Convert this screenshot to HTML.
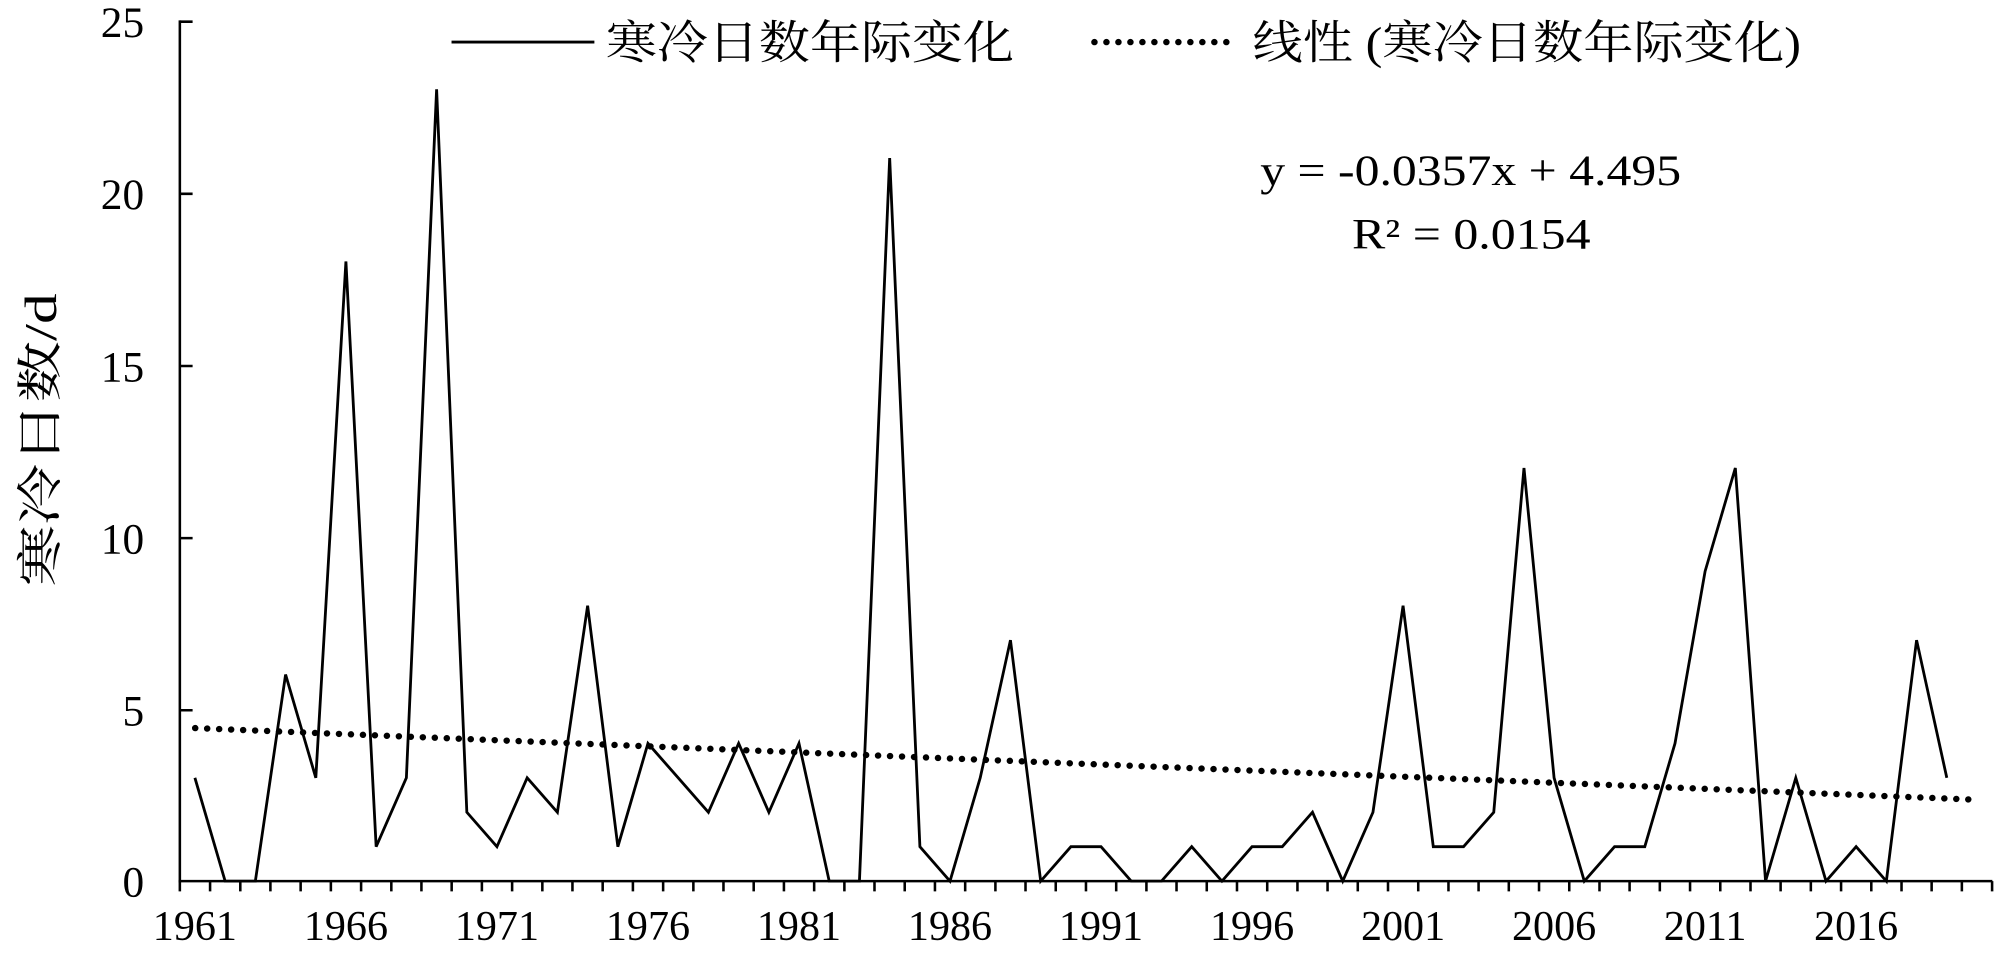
<!DOCTYPE html>
<html><head><meta charset="utf-8"><style>html,body{margin:0;padding:0;background:#fff;}svg{display:block}</style></head>
<body>
<svg width="2000" height="964" viewBox="0 0 1568 756" preserveAspectRatio="none" xmlns="http://www.w3.org/2000/svg" font-family="'Liberation Serif','Noto Serif CJK SC',serif">
<rect width="1568" height="756" fill="#fff"/>
<g stroke="#000" stroke-width="2" fill="none">
<line x1="141" y1="16" x2="141" y2="692"/>
<line x1="140" y1="691" x2="1562" y2="691"/>
<path d="M141 17h10M141 152h10M141 287h10M141 422h10M141 557h10"/>
<path d="M141 691v8M164.7 691v8M188.4 691v8M212 691v8M235.7 691v8M259.4 691v8M283.1 691v8M306.8 691v8M330.4 691v8M354.1 691v8M377.8 691v8M401.5 691v8M425.2 691v8M448.8 691v8M472.5 691v8M496.2 691v8M519.9 691v8M543.6 691v8M567.2 691v8M590.9 691v8M614.6 691v8M638.3 691v8M662 691v8M685.6 691v8M709.3 691v8M733 691v8M756.7 691v8M780.4 691v8M804 691v8M827.7 691v8M851.4 691v8M875.1 691v8M898.8 691v8M922.4 691v8M946.1 691v8M969.8 691v8M993.5 691v8M1017.2 691v8M1040.8 691v8M1064.5 691v8M1088.2 691v8M1111.9 691v8M1135.6 691v8M1159.2 691v8M1182.9 691v8M1206.6 691v8M1230.3 691v8M1254 691v8M1277.6 691v8M1301.3 691v8M1325 691v8M1348.7 691v8M1372.4 691v8M1396 691v8M1419.7 691v8M1443.4 691v8M1467.1 691v8M1490.8 691v8M1514.4 691v8M1538.1 691v8M1561.8 691v8"/>
</g>
<polyline fill="none" stroke="#000" stroke-width="2.2" points="152.8,610 176.5,691 200.2,691 223.9,529 247.6,610 271.2,205 294.9,664 318.6,610 342.3,70 366,637 389.6,664 413.3,610 437,637 460.7,475 484.4,664 508,583 531.7,610 555.4,637 579.1,583 602.8,637 626.4,583 650.1,691 673.8,691 697.5,124 721.2,664 744.8,691 768.5,610 792.2,502 815.9,691 839.6,664 863.2,664 886.9,691 910.6,691 934.3,664 958,691 981.6,664 1005.3,664 1029,637 1052.7,691 1076.4,637 1100,475 1123.7,664 1147.4,664 1171.1,637 1194.8,367 1218.4,610 1242.1,691 1265.8,664 1289.5,664 1313.2,583 1336.8,448 1360.5,367 1384.2,691 1407.9,610 1431.6,691 1455.2,664 1478.9,691 1502.6,502 1526.3,610"/>
<line x1="153" y1="571" x2="1545" y2="627" stroke="#000" stroke-width="5" stroke-dasharray="0.1 9.3" stroke-linecap="round"/>
<g font-size="34" text-anchor="end">
<text x="113" y="29">25</text><text x="113" y="164">20</text><text x="113" y="299">15</text><text x="113" y="434">10</text><text x="113" y="569">5</text><text x="113" y="703">0</text>
</g>
<g font-size="33" text-anchor="middle">
<text x="152.8" y="737">1961</text><text x="271.2" y="737">1966</text><text x="389.6" y="737">1971</text><text x="508" y="737">1976</text><text x="626.4" y="737">1981</text><text x="744.8" y="737">1986</text><text x="863.2" y="737">1991</text><text x="981.6" y="737">1996</text><text x="1100" y="737">2001</text><text x="1218.4" y="737">2006</text><text x="1336.8" y="737">2011</text><text x="1455.2" y="737">2016</text>
</g>
<text transform="translate(44,345) rotate(-90)" font-size="36" text-anchor="middle" textLength="230" lengthAdjust="spacingAndGlyphs" font-family="'Liberation Serif','Noto Serif CJK SC',serif">寒冷日数/d</text>
<line x1="354" y1="33" x2="466" y2="33" stroke="#000" stroke-width="2.2"/>
<text x="475" y="46" font-size="36" textLength="320" lengthAdjust="spacingAndGlyphs" font-family="'Liberation Serif','Noto Serif CJK SC',serif">寒冷日数年际变化</text>
<line x1="858" y1="33" x2="970" y2="33" stroke="#000" stroke-width="5" stroke-dasharray="0.1 9.3" stroke-linecap="round"/>
<text x="982" y="46" font-size="36" textLength="430" lengthAdjust="spacingAndGlyphs" font-family="'Liberation Serif','Noto Serif CJK SC',serif">线性 (寒冷日数年际变化)</text>
<text x="988" y="145" font-size="34" textLength="330" lengthAdjust="spacingAndGlyphs">y = -0.0357x  + 4.495</text>
<text x="1060" y="195" font-size="34" textLength="187" lengthAdjust="spacingAndGlyphs">R² = 0.0154</text>
</svg>
</body></html>
